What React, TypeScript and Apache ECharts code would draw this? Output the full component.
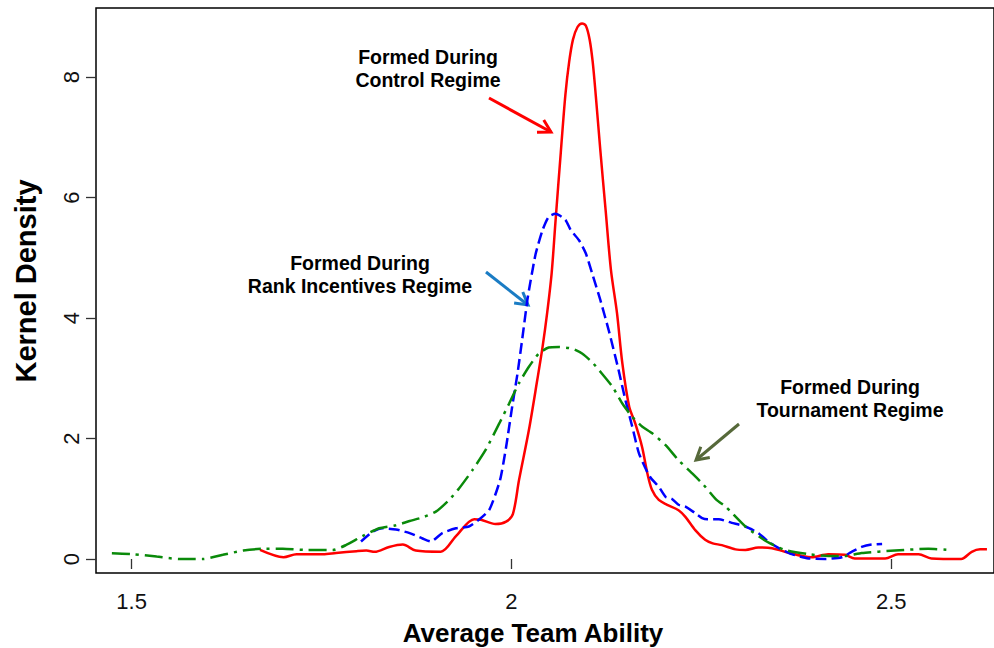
import React, { useEffect, useRef } from "react";
import * as echarts from "echarts";

// Kernel density curves: [average team ability, density]
const controlCurve: [number, number][] = [
  [1.669, 0.15], [1.7, 0.03], [1.717, 0.08], [1.752, 0.08], [1.769, 0.1], [1.796, 0.13],
  [1.809, 0.14], [1.82, 0.12], [1.839, 0.2], [1.857, 0.24], [1.874, 0.14], [1.907, 0.12],
  [1.927, 0.38], [1.951, 0.66], [1.96, 0.65], [1.979, 0.58], [1.993, 0.62], [2.002, 0.75],
  [2.01, 1.31], [2.023, 2.14], [2.034, 2.97], [2.041, 3.52], [2.047, 4.08], [2.053, 4.75],
  [2.058, 5.6], [2.065, 6.75], [2.071, 7.7], [2.076, 8.25], [2.081, 8.62], [2.087, 8.83],
  [2.093, 8.89], [2.098, 8.85], [2.103, 8.62], [2.107, 8.25], [2.111, 7.7], [2.117, 6.79],
  [2.124, 5.79], [2.131, 4.8], [2.139, 4.08], [2.146, 3.25], [2.155, 2.53], [2.163, 2.25],
  [2.172, 1.86], [2.179, 1.42], [2.185, 1.15], [2.194, 0.98], [2.205, 0.9], [2.22, 0.81],
  [2.229, 0.7], [2.242, 0.48], [2.255, 0.32], [2.265, 0.26], [2.277, 0.23], [2.295, 0.16],
  [2.308, 0.15], [2.325, 0.19], [2.343, 0.18], [2.36, 0.12], [2.395, 0.03], [2.417, 0.08],
  [2.439, 0.07], [2.452, 0.01], [2.492, 0.01], [2.509, 0.08], [2.536, 0.08], [2.553, 0.01],
  [2.592, 0.0], [2.606, 0.12], [2.617, 0.16], [2.626, 0.16],
];

const rankCurve: [number, number][] = [
  [1.802, 0.29], [1.817, 0.45], [1.83, 0.51], [1.848, 0.49], [1.866, 0.43], [1.883, 0.34],
  [1.894, 0.29], [1.909, 0.43], [1.927, 0.51], [1.944, 0.54], [1.957, 0.65], [1.971, 0.82],
  [1.985, 1.31], [1.993, 1.86], [2.001, 2.53], [2.008, 3.08], [2.014, 3.63], [2.021, 4.3],
  [2.025, 4.6], [2.032, 5.07], [2.041, 5.46], [2.049, 5.68], [2.058, 5.73], [2.071, 5.63],
  [2.078, 5.46], [2.089, 5.29], [2.098, 5.07], [2.106, 4.75], [2.117, 4.3], [2.128, 3.8],
  [2.141, 3.14], [2.15, 2.64], [2.159, 2.2], [2.168, 1.75], [2.182, 1.37], [2.194, 1.2],
  [2.203, 1.03], [2.211, 1.0], [2.22, 0.9], [2.229, 0.87], [2.242, 0.76], [2.251, 0.68],
  [2.258, 0.66], [2.273, 0.66], [2.29, 0.6], [2.308, 0.54], [2.325, 0.43], [2.338, 0.29],
  [2.352, 0.18], [2.369, 0.08], [2.391, 0.01], [2.413, 0.0], [2.435, 0.03], [2.448, 0.12],
  [2.461, 0.2], [2.474, 0.24], [2.488, 0.25],
];

const tournamentCurve: [number, number][] = [
  [1.474, 0.095], [1.502, 0.08], [1.533, 0.04], [1.563, 0.0], [1.594, 0.0], [1.62, 0.07],
  [1.647, 0.14], [1.673, 0.17], [1.699, 0.17], [1.73, 0.15], [1.765, 0.15], [1.782, 0.23],
  [1.804, 0.38], [1.826, 0.51], [1.848, 0.56], [1.866, 0.63], [1.883, 0.69], [1.901, 0.79],
  [1.918, 0.98], [1.931, 1.17], [1.949, 1.48], [1.966, 1.81], [1.984, 2.25], [1.997, 2.58],
  [2.01, 2.92], [2.023, 3.19], [2.036, 3.41], [2.049, 3.51], [2.062, 3.52], [2.08, 3.49],
  [2.093, 3.41], [2.106, 3.27], [2.119, 3.08], [2.133, 2.86], [2.146, 2.58], [2.159, 2.36],
  [2.172, 2.2], [2.185, 2.09], [2.203, 1.89], [2.22, 1.64], [2.238, 1.42], [2.253, 1.23],
  [2.27, 0.98], [2.282, 0.87], [2.308, 0.54], [2.336, 0.29], [2.36, 0.15], [2.391, 0.08],
  [2.417, 0.05], [2.439, 0.05], [2.461, 0.1], [2.505, 0.14], [2.549, 0.17], [2.575, 0.15],
];

const xTicks = [1.5, 2, 2.5];
const yTicks = [0, 2, 4, 6, 8];
const xTitle = "Average Team Ability";
const yTitle = "Kernel Density";
const labelControl = "Formed During\nControl Regime";
const labelRank = "Formed During\nRank Incentives Regime";
const labelTournament = "Formed During\nTournament Regime";

const FONT = '"Liberation Sans", Arial, sans-serif';

function arrow(x1: number, y1: number, x2: number, y2: number, color: string) {
  const L = 14;
  const ang = Math.PI / 6;
  const a = Math.atan2(y2 - y1, x2 - x1);
  const p1 = [x2 - L * Math.cos(a - ang), y2 - L * Math.sin(a - ang)];
  const p2 = [x2 - L * Math.cos(a + ang), y2 - L * Math.sin(a + ang)];
  return [
    { type: "line", shape: { x1, y1, x2, y2 }, style: { stroke: color, lineWidth: 3 } },
    {
      type: "polyline",
      shape: { points: [p1, [x2, y2], p2] },
      style: { stroke: color, lineWidth: 3, fill: null },
    },
  ];
}

function note(text: string, x: number, y: number) {
  return {
    type: "text",
    x,
    y,
    style: {
      text,
      font: `bold 19.5px ${FONT}`,
      fill: "#000",
      textAlign: "center",
      textVerticalAlign: "middle",
      lineHeight: 23,
    },
  };
}

export default function App() {
  const ref = useRef<HTMLDivElement>(null);
  useEffect(() => {
    if (!ref.current) return;
    const chart = echarts.init(ref.current, null, { renderer: "svg" });
    const gridLeft = 96;
    const gridTop = 8;
    const gridW = 900;
    const gridH = 565;
    const pxPerX = 761.3;
    const pxPerY = 60.25;
    const xMin = 1.5 - (131.7 - gridLeft) / pxPerX;
    const xMax = xMin + gridW / pxPerX;
    const yMin = -(gridTop + gridH - 559) / pxPerY;
    const yMax = (559 - gridTop) / pxPerY;

    const axisCommon = {
      type: "value" as const,
      splitLine: { show: false },
      axisLine: { show: false },
    };

    chart.setOption({
      animation: false,
      backgroundColor: "#fff",
      grid: {
        left: gridLeft,
        top: gridTop,
        width: gridW,
        height: gridH,
        show: true,
        borderColor: "#000",
        borderWidth: 1.5,
        containLabel: false,
      },
      xAxis: {
        ...axisCommon,
        min: xMin,
        max: xMax,
        axisTick: {
          show: true,
          length: 10,
          inside: false,
          customValues: xTicks,
          lineStyle: { color: "#333", width: 1.3 },
        },
        axisLabel: {
          customValues: xTicks,
          formatter: (v: number) => String(v),
          fontSize: 22,
          fontFamily: FONT,
          color: "#111",
          margin: 17,
        },
      },
      yAxis: {
        ...axisCommon,
        min: yMin,
        max: yMax,
        axisTick: {
          show: true,
          length: 10,
          inside: false,
          customValues: yTicks,
          lineStyle: { color: "#333", width: 1.3 },
        },
        axisLabel: {
          customValues: yTicks,
          formatter: (v: number) => String(v),
          fontSize: 22,
          fontFamily: FONT,
          color: "#111",
          rotate: 90,
          margin: 14,
        },
      },
      series: [
        {
          type: "line",
          data: controlCurve,
          showSymbol: false,
          smooth: 0.3,
          lineStyle: { color: "#ff0000", width: 2.5, type: "solid" },
          z: 3,
        },
        {
          type: "line",
          data: rankCurve,
          showSymbol: false,
          smooth: 0.2,
          lineStyle: { color: "#0000ff", width: 2.5, type: [11, 5] },
          z: 4,
        },
        {
          type: "line",
          data: tournamentCurve,
          showSymbol: false,
          smooth: 0.2,
          lineStyle: { color: "#0a8a0a", width: 2.5, type: [18, 6, 3, 6] },
          z: 5,
        },
      ],
      graphic: [
        {
          type: "text",
          x: 533,
          y: 633,
          style: {
            text: xTitle,
            font: `bold 26px ${FONT}`,
            fill: "#000",
            textAlign: "center",
            textVerticalAlign: "middle",
          },
        },
        {
          type: "text",
          x: 26,
          y: 281,
          rotation: Math.PI / 2,
          style: {
            text: yTitle,
            font: `bold 29px ${FONT}`,
            fill: "#000",
            textAlign: "center",
            textVerticalAlign: "middle",
          },
        },
        note(labelControl, 428, 68),
        note(labelRank, 360, 274),
        note(labelTournament, 850, 398),
        ...arrow(489, 98, 551, 132, "#ff0000"),
        ...arrow(486, 272, 528, 305, "#1a7cc4"),
        ...arrow(739, 424, 696, 460, "#56693a"),
      ],
    });
    return () => chart.dispose();
  }, []);
  return (
    <div
      ref={ref}
      style={{ position: "absolute", left: 0, top: 0, width: 994, height: 648 }}
    />
  );
}
